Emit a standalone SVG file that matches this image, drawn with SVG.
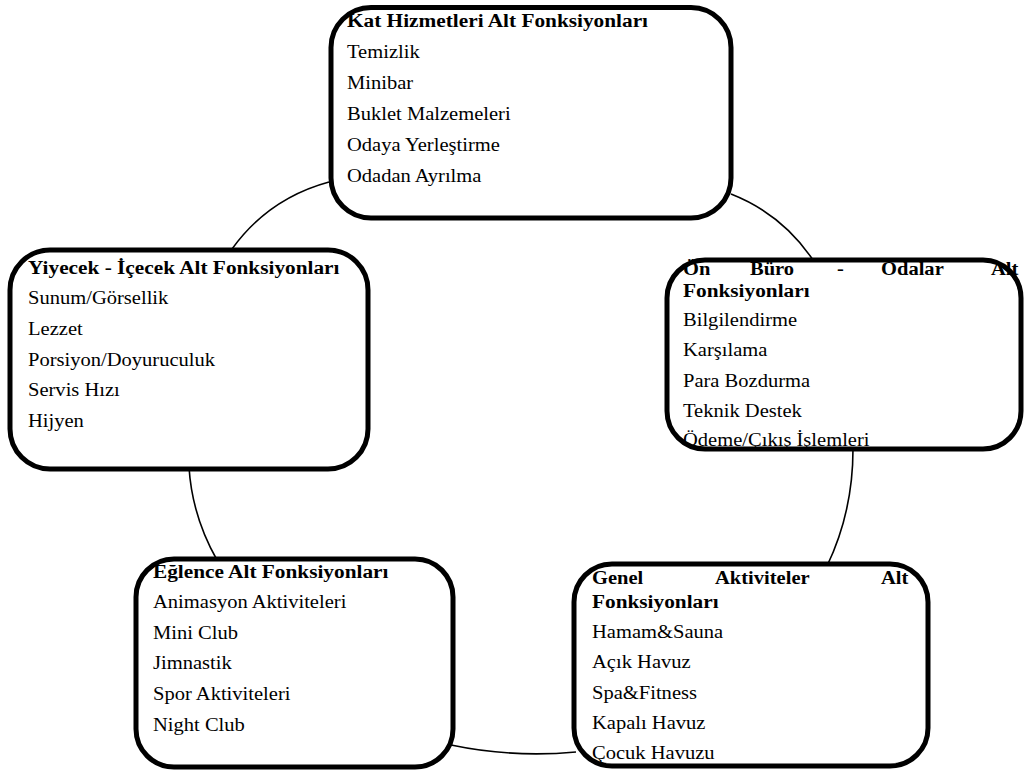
<svg xmlns="http://www.w3.org/2000/svg" width="1025" height="771" viewBox="0 0 1025 771">
<style>
.bg{fill:#fff;stroke:none}
.bd{fill:none;stroke:#000;stroke-width:5}
.cn{fill:none;stroke:#000;stroke-width:1.6}
text{font-family:"Liberation Serif","Times New Roman",serif;font-size:19.2px;fill:#000}
.b{font-weight:bold}
</style>
<rect width="1025" height="771" fill="#fff"/>
<g id="connectors">
<path class="cn" d="M329,182 Q268.5,198.4 232,249"/>
<path class="cn" d="M731,194 Q782,214 813,260"/>
<path class="cn" d="M853,449 Q853,512 827,566"/>
<path class="cn" d="M451,745 Q513,758 576,752"/>
<path class="cn" d="M189,467 Q192,516 217,560"/>
</g>
<g id="kat">
<rect class="bg" x="331" y="7.5" width="400" height="210.5" rx="40"/>
<text class="b" transform="translate(347,27) scale(1.11,1)">Kat Hizmetleri Alt Fonksiyonları</text>
<text transform="translate(347,58) scale(1.07,1)">Temizlik</text>
<text transform="translate(347,89) scale(1.07,1)">Minibar</text>
<text transform="translate(347,120) scale(1.07,1)">Buklet Malzemeleri</text>
<text transform="translate(347,151) scale(1.07,1)">Odaya Yerleştirme</text>
<text transform="translate(347,182) scale(1.07,1)">Odadan Ayrılma</text>
<rect class="bd" x="331" y="7.5" width="400" height="210.5" rx="40"/>
</g>
<g id="yiyecek">
<rect class="bg" x="10" y="250" width="358" height="219" rx="40"/>
<text class="b" transform="translate(28,274) scale(1.11,1)">Yiyecek - İçecek Alt Fonksiyonları</text>
<text transform="translate(28,304) scale(1.07,1)">Sunum/Görsellik</text>
<text transform="translate(28,335) scale(1.07,1)">Lezzet</text>
<text transform="translate(28,366) scale(1.07,1)">Porsiyon/Doyuruculuk</text>
<text transform="translate(28,396) scale(1.07,1)">Servis Hızı</text>
<text transform="translate(28,427) scale(1.07,1)">Hijyen</text>
<rect class="bd" x="10" y="250" width="358" height="219" rx="40"/>
</g>
<g id="onburo">
<rect class="bg" x="667" y="260" width="354" height="189" rx="38"/>
<text class="b" transform="translate(683,275) scale(1.07,1)">Ön</text>
<text class="b" transform="translate(750,275) scale(1.07,1)">Büro</text>
<text class="b" transform="translate(837,275) scale(1.07,1)">-</text>
<text class="b" transform="translate(881,275) scale(1.07,1)">Odalar</text>
<text class="b" transform="translate(991,275) scale(1.07,1)">Alt</text>
<text class="b" transform="translate(683,297) scale(1.11,1)">Fonksiyonları</text>
<text transform="translate(683,326) scale(1.07,1)">Bilgilendirme</text>
<text transform="translate(683,356) scale(1.07,1)">Karşılama</text>
<text transform="translate(683,387) scale(1.07,1)">Para Bozdurma</text>
<text transform="translate(683,417) scale(1.07,1)">Teknik Destek</text>
<text transform="translate(683,446) scale(1.07,1)">Ödeme/Çıkış İşlemleri</text>
<rect class="bd" x="667" y="260" width="354" height="189" rx="38"/>
</g>
<g id="eglence">
<rect class="bg" x="136" y="559" width="317" height="208" rx="38"/>
<text class="b" transform="translate(153,578) scale(1.11,1)">Eğlence Alt Fonksiyonları</text>
<text transform="translate(153,608) scale(1.07,1)">Animasyon Aktiviteleri</text>
<text transform="translate(153,639) scale(1.07,1)">Mini Club</text>
<text transform="translate(153,669) scale(1.07,1)">Jimnastik</text>
<text transform="translate(153,700) scale(1.07,1)">Spor Aktiviteleri</text>
<text transform="translate(153,731) scale(1.07,1)">Night Club</text>
<rect class="bd" x="136" y="559" width="317" height="208" rx="38"/>
</g>
<g id="genel">
<rect class="bg" x="574" y="564" width="354" height="202" rx="38"/>
<text class="b" transform="translate(592,584) scale(1.07,1)">Genel</text>
<text class="b" transform="translate(715,584) scale(1.07,1)">Aktiviteler</text>
<text class="b" transform="translate(881,584) scale(1.07,1)">Alt</text>
<text class="b" transform="translate(592,608) scale(1.11,1)">Fonksiyonları</text>
<text transform="translate(592,638) scale(1.07,1)">Hamam&amp;Sauna</text>
<text transform="translate(592,668) scale(1.07,1)">Açık Havuz</text>
<text transform="translate(592,699) scale(1.07,1)">Spa&amp;Fitness</text>
<text transform="translate(592,729) scale(1.07,1)">Kapalı Havuz</text>
<text transform="translate(592,759) scale(1.07,1)">Çocuk Havuzu</text>
<rect class="bd" x="574" y="564" width="354" height="202" rx="38"/>
</g>
</svg>
